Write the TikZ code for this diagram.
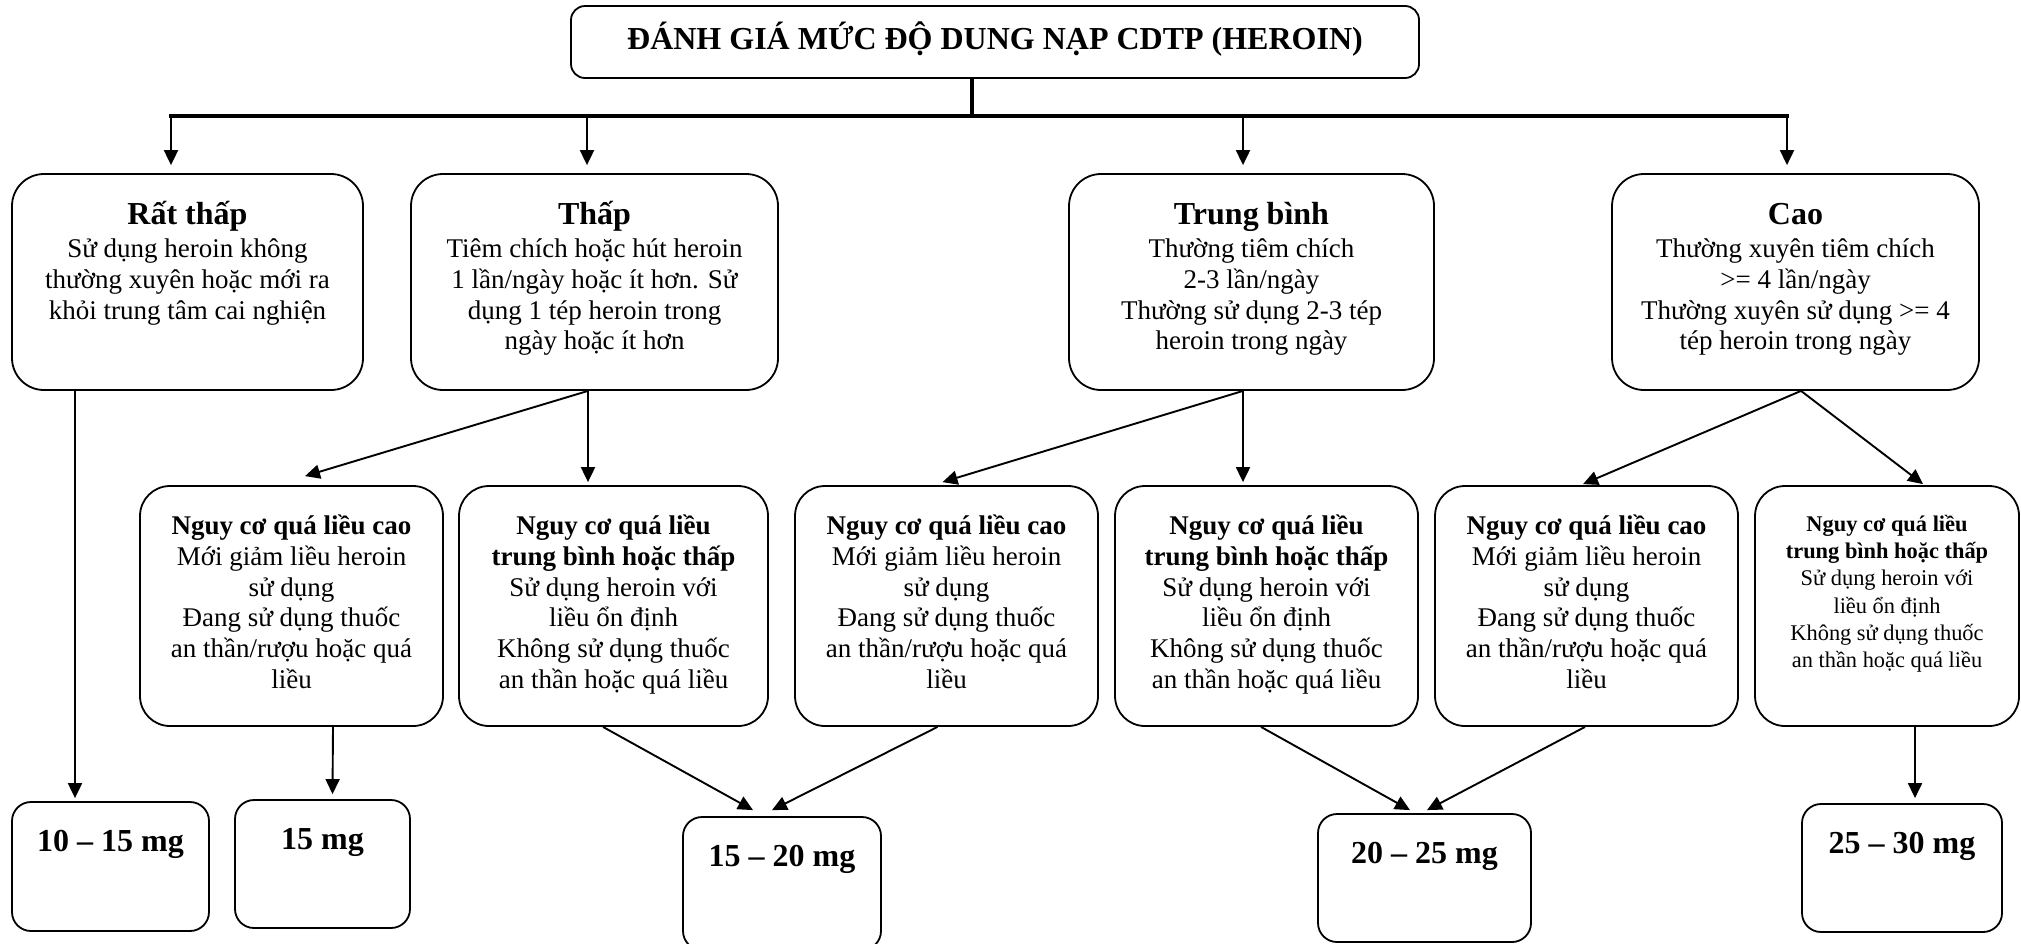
\documentclass[tikz,border=0pt]{standalone}
\usepackage{fontspec}
\setmainfont{Liberation Serif}
\usetikzlibrary{arrows.meta,calc}
\newcommand\lvlhead[1]{\rule{0pt}{20pt}{\fontsize{16}{15.3}\selectfont\bfseries #1}}
\newcommand\riskhead[2]{\rule{0pt}{#1}\textbf{#2}}
\begin{document}
\begin{tikzpicture}[x=0.5pt,y=-0.5pt,
  box/.style={draw, line width=0.9pt, inner sep=0pt},
  titlebox/.style={box, rounded corners=7pt},
  lvlbox/.style={box, rounded corners=16pt, minimum height=108pt},
  riskbox/.style={box, rounded corners=15pt, minimum height=120pt},
  dosebox/.style={box, rounded corners=9.5pt},
  lvltext/.style={anchor=north, inner sep=0pt, align=center, font=\fontsize{13.5}{15.3}\selectfont},
  risktext/.style={anchor=north, inner sep=0pt, align=center, font=\fontsize{13.5}{15.4}\selectfont},
  smalltext/.style={anchor=north, inner sep=0pt, align=center, font=\fontsize{11.2}{13.6}\selectfont},
  dosetext/.style={anchor=base, inner sep=0pt, font=\fontsize{16}{19}\selectfont\bfseries},
  arr/.style={-{Triangle[length=7.5pt,width=7pt]}, line width=0.95pt},
  trunk/.style={line width=1.8pt},
]
\useasboundingbox (0,0) rectangle (2021,943);

% title
\node[titlebox, minimum width=424pt, minimum height=36pt] (title) at (995,42) {};
\node[anchor=base, inner sep=0pt, font=\fontsize{16}{19}\selectfont\bfseries] (titletext) at ($(title.north)+(0,44)$) {ĐÁNH GIÁ MỨC ĐỘ DUNG NẠP CDTP (HEROIN)};

% level boxes
\node[lvlbox, minimum width=175.5pt] (rt) at (187.5,282) {};
\node[lvlbox, minimum width=183.5pt] (t)  at (594.5,282) {};
\node[lvlbox, minimum width=182.5pt] (tb) at (1251.5,282) {};
\node[lvlbox, minimum width=183.5pt] (c)  at (1795.5,282) {};

\node[lvltext] (rt-txt) at ($(rt.north)+(0,11)$) {\lvlhead{Rất thấp}\\[1.4pt] Sử dụng heroin không\\ thường xuyên hoặc mới ra\\ khỏi trung tâm cai nghiện};
\node[lvltext] (t-txt) at ($(t.north)+(0,11)$) {\lvlhead{Thấp}\\[1.4pt] Tiêm chích hoặc hút heroin\\ 1 lần/ngày hoặc ít hơn. Sử\\ dụng 1 tép heroin trong\\ ngày hoặc ít hơn};
\node[lvltext] (tb-txt) at ($(tb.north)+(0,11)$) {\lvlhead{Trung bình}\\[1.4pt] Thường tiêm chích\\ 2-3 lần/ngày\\ Thường sử dụng 2-3 tép\\ heroin trong ngày};
\node[lvltext] (c-txt) at ($(c.north)+(0,11)$) {\lvlhead{Cao}\\[1.4pt] Thường xuyên tiêm chích\\ >= 4 lần/ngày\\ Thường xuyên sử dụng >= 4\\ tép heroin trong ngày};

% risk boxes
\node[riskbox, minimum width=151.5pt] (b1) at (291.5,606) {};
\node[riskbox, minimum width=154.5pt] (b2) at (613.5,606) {};
\node[riskbox, minimum width=151.5pt] (b3) at (946.5,606) {};
\node[riskbox, minimum width=151.5pt] (b4) at (1266.5,606) {};
\node[riskbox, minimum width=151.5pt] (b5) at (1586.5,606) {};
\node[riskbox, minimum width=132pt]   (b6) at (1887,606) {};

\node[risktext] (b1-txt) at ($(b1.north)+(0,15)$) {\riskhead{17pt}{Nguy cơ quá liều cao}\\ Mới giảm liều heroin\\ sử dụng\\ Đang sử dụng thuốc\\ an thần/rượu hoặc quá\\ liều};
\node[risktext] (b2-txt) at ($(b2.north)+(0,15)$) {\riskhead{17pt}{Nguy cơ quá liều}\\ \textbf{trung bình hoặc thấp}\\ Sử dụng heroin với\\ liều ổn định\\ Không sử dụng thuốc\\ an thần hoặc quá liều};
\node[risktext] (b3-txt) at ($(b3.north)+(0,15)$) {\riskhead{17pt}{Nguy cơ quá liều cao}\\ Mới giảm liều heroin\\ sử dụng\\ Đang sử dụng thuốc\\ an thần/rượu hoặc quá\\ liều};
\node[risktext] (b4-txt) at ($(b4.north)+(0,15)$) {\riskhead{17pt}{Nguy cơ quá liều}\\ \textbf{trung bình hoặc thấp}\\ Sử dụng heroin với\\ liều ổn định\\ Không sử dụng thuốc\\ an thần hoặc quá liều};
\node[risktext] (b5-txt) at ($(b5.north)+(0,15)$) {\riskhead{17pt}{Nguy cơ quá liều cao}\\ Mới giảm liều heroin\\ sử dụng\\ Đang sử dụng thuốc\\ an thần/rượu hoặc quá\\ liều};
\node[smalltext] (b6-txt) at ($(b6.north)+(0,16)$) {\riskhead{15pt}{Nguy cơ quá liều}\\ \textbf{trung bình hoặc thấp}\\ Sử dụng heroin với\\ liều ổn định\\ Không sử dụng thuốc\\ an thần hoặc quá liều};

% dose boxes
\node[dosebox, minimum width=98.5pt, minimum height=64.5pt] (d1) at (110.5,866.5) {};
\node[dosebox, minimum width=87.5pt,  minimum height=64pt]   (d2) at (322.5,864) {};
\node[dosebox, minimum width=99pt,    minimum height=66.5pt] (d3) at (782,883.5) {};
\node[dosebox, minimum width=106.5pt, minimum height=64pt]   (d4) at (1424.5,878) {};
\node[dosebox, minimum width=100pt,   minimum height=64pt]   (d5) at (1902,868) {};

\node[dosetext] (d1-txt) at ($(d1.north)+(0,50)$) {10 – 15 mg};
\node[dosetext] (d2-txt) at ($(d2.north)+(0,50)$) {15 mg};
\node[dosetext] (d3-txt) at ($(d3.north)+(0,50)$) {15 – 20 mg};
\node[dosetext] (d4-txt) at ($(d4.north)+(0,50)$) {20 – 25 mg};
\node[dosetext] (d5-txt) at ($(d5.north)+(0,50)$) {25 – 30 mg};

% trunk and bar
\coordinate (barM) at (972,116);
\coordinate (barL) at (171,116);
\coordinate (barR) at (1787,116);
\draw[trunk] ($(title.south)+(-23,0)$) -- (barM);
\draw[trunk, line cap=rect] (barL) -- (barR);

\coordinate (inRT) at ($(rt.north)+(-16.5,-8)$);
\coordinate (inT)  at ($(t.north)+(-7.5,-8)$);
\coordinate (inTB) at ($(tb.north)+(-8.5,-8)$);
\coordinate (inC)  at ($(c.north)+(-8.5,-8)$);
\draw[arr] (inRT |- barL) -- (inRT);
\draw[arr] (inT |- barL) -- (inT);
\draw[arr] (inTB |- barL) -- (inTB);
\draw[arr] (inC |- barL) -- (inC);

% level -> risk / dose
\draw[arr] ($(rt.south)+(-112.5,0)$) -- ($(d1.north)+(-35.5,-3)$);
\draw[arr] ($(t.south)+(-6.5,0)$) -- ($(b1.north)+(13.5,-9)$);
\draw[arr] ($(t.south)+(-6.5,0)$) -- ($(b2.north)+(-25.5,-3)$);
\draw[arr] ($(tb.south)+(-8.5,0)$) -- ($(b3.north)+(-4,-3)$);
\draw[arr] ($(tb.south)+(-8.5,0)$) -- ($(b4.north)+(-23.5,-3)$);
\draw[arr] ($(c.south)+(5.5,0)$) -- ($(b5.north)+(-3.5,-1)$);
\draw[arr] ($(c.south)+(5.5,0)$) -- ($(b6.north)+(36,-1)$);

% risk -> dose
\draw[arr] ($(b1.south)+(41.5,0)$) -- ($(d2.north)+(10,-5)$);
\draw[arr] ($(b2.south)+(-10.5,0)$) -- ($(d3.north)+(-29,-6)$);
\draw[arr] ($(b3.south)+(-9,0)$) -- ($(d3.north)+(-10,-6)$);
\draw[arr] ($(b4.south)+(-5.5,0)$) -- ($(d4.north)+(-14.5,-3)$);
\draw[arr] ($(b5.south)+(-1.5,0)$) -- ($(d4.north)+(2.5,-3)$);
\draw[arr] ($(b6.south)+(28,0)$) -- ($(d5.north)+(13,-5)$);
\end{tikzpicture}
\end{document}
